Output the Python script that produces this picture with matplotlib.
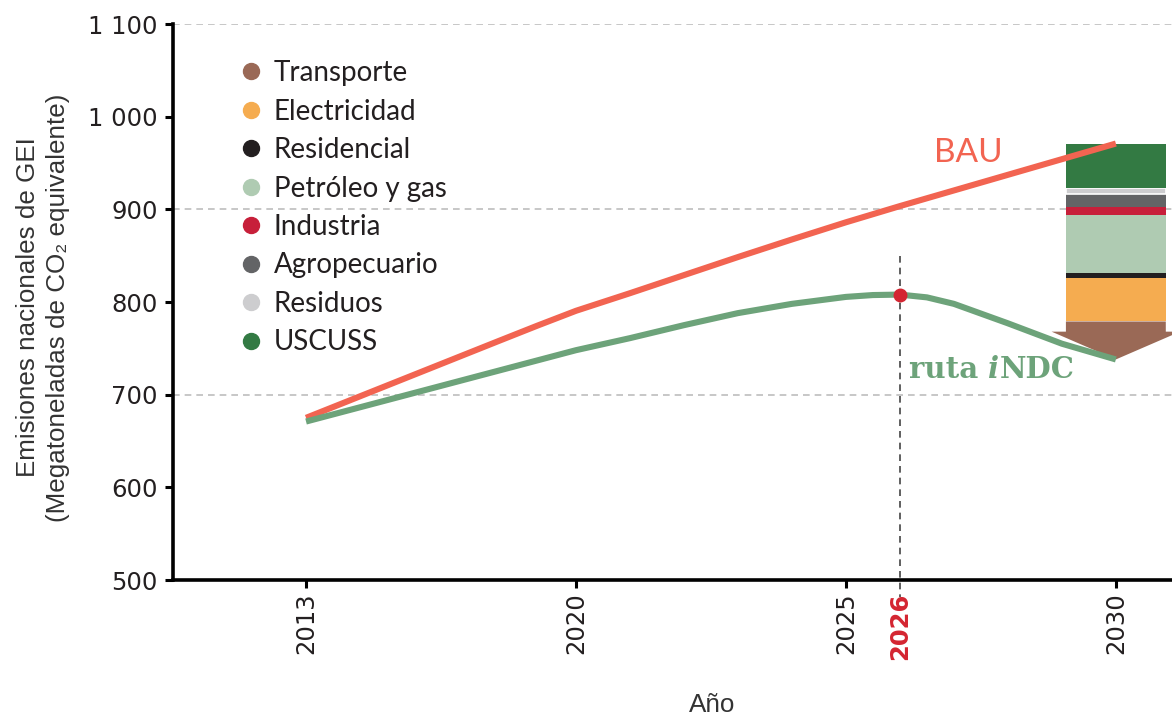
import numpy as np
import matplotlib
matplotlib.use("Agg")
import matplotlib.pyplot as plt
from matplotlib.lines import Line2D
from matplotlib.patches import Polygon

# trayectoria BAU (Mt CO2e)
anios_bau = [2013, 2018, 2019, 2020, 2021, 2022, 2023, 2024, 2025, 2026, 2030]
bau = [675, 758, 774.5, 790.5, 809.5, 829, 848.5, 867.5, 886, 903.5, 971]

# ruta iNDC
anios_indc = [2013, 2019, 2020, 2021, 2022, 2023, 2024, 2025, 2025.5, 2026,
              2026.5, 2027, 2028, 2029, 2030]
indc = [671, 737, 748, 761, 775, 788, 798, 805.5, 807.5, 808,
        805, 798, 777, 755, 738]

anio_pico = 2026
valor_pico = 808

# reducciones por sector en 2030 (de abajo hacia arriba)
sectores = ['Transporte', 'Electricidad', 'Residencial', 'Petróleo y gas',
            'Industria', 'Agropecuario', 'Residuos', 'USCUSS']
reduccion = [41, 47, 5, 63, 9, 14, 6, 48]
colores = ['#9A6956', '#F5AC50', '#231F20', '#AFCBB2',
           '#C71F3A', '#636466', '#CDCDCF', '#337A43']

xticks = [2013, 2020, 2025, 2026, 2030]
yticks = [500, 600, 700, 800, 900, 1000, 1100]
ytick_labels = ['500', '600', '700', '800', '900', '1 000', '1 100']
grid_y = [700, 900, 1100]

# eje x: tramos 2013-2020, 2020-2025 y 2025-2030 con el mismo ancho
tramos_x = [2000, 2013, 2020, 2025, 2030, 2040]
tramos_u = [-13 / 7, 0, 1, 2, 3, 5]

def fwd(x):
    return np.interp(x, tramos_x, tramos_u)

def inv(u):
    return np.interp(u, tramos_u, tramos_x)

ROJO = '#F26451'
VERDE = '#6DA37A'

fig = plt.figure(figsize=(11.72, 7.15), dpi=100)
ax = fig.add_axes([173 / 1172, 1 - 580 / 715, 1 - 173 / 1172, (580 - 24) / 715])
ax.set_xscale('function', functions=(fwd, inv))
ax.set_xlim(2009.55, 2031.04)
ax.set_ylim(500, 1100)

for g in grid_y:
    ax.axhline(g, color='#BDBDBD', lw=1.2, ls=(0, (4, 3)), zorder=0)

# barra de reducciones 2030 (se apila hacia abajo desde BAU)
ancho = 1.85
tope = bau[-1]
bases = []
for i in range(len(sectores) - 1, -1, -1):
    bases.append(tope - reduccion[i])
    tope = tope - reduccion[i]
bases = bases[::-1]
for i in range(1, len(sectores)):
    ec = 'white' if sectores[i] == 'Residuos' else 'none'
    ax.bar(2030, reduccion[i], bottom=bases[i], width=ancho, color=colores[i],
           edgecolor=ec, lw=1.2, zorder=2)

# transporte como flecha
cabeza = 30
sup = bases[0] + reduccion[0]
inf = bases[0]
flecha = Polygon([(2030 - ancho / 2, sup), (2030 + ancho / 2, sup),
                  (2030 + ancho / 2, inf + cabeza), (2030 + 1.19, inf + cabeza),
                  (2030, inf), (2030 - 1.19, inf + cabeza),
                  (2030 - ancho / 2, inf + cabeza)],
                 closed=True, facecolor=colores[0], edgecolor='none', zorder=2)
ax.add_patch(flecha)

ax.plot(anios_bau, bau, color=ROJO, lw=4.4, solid_capstyle='butt',
        solid_joinstyle='round', zorder=4)
ax.plot(anios_indc, indc, color=VERDE, lw=4.4, solid_capstyle='butt',
        solid_joinstyle='round', zorder=4)

ax.plot([anio_pico, anio_pico], [850, 482], color='#444444', lw=1.2,
        ls=(0, (4, 3)), clip_on=False, zorder=3)
ax.plot(anio_pico, valor_pico, 'o', color='#D42531', ms=9, zorder=5)

ax.text(2027.26, 961, 'BAU', color=ROJO, fontsize=24, family='Lato',
        ha='center', va='center')
t1 = ax.text(2026.17, 718, 'ruta ', color=VERDE, fontsize=21,
             family='DejaVu Serif', fontweight='bold', va='baseline')
t2 = ax.annotate('i', xy=(1, 0), xycoords=t1, color=VERDE, fontsize=21,
                 family='DejaVu Serif', fontweight='bold', style='italic', va='bottom')
ax.annotate('NDC', xy=(1, 0), xycoords=t2, color=VERDE, fontsize=21,
            family='DejaVu Serif', fontweight='bold', va='bottom')

# ejes
for s in ['top', 'right']:
    ax.spines[s].set_visible(False)
for s in ['left', 'bottom']:
    ax.spines[s].set_linewidth(2.6)
ax.set_yticks(yticks)
ax.set_yticklabels(ytick_labels)
ax.set_xticks(xticks)
ax.set_xticklabels([str(x) for x in xticks], rotation=90)
ax.tick_params(axis='both', length=6, width=2.2, labelsize=17.5, color='black',
               labelcolor='#231F20')
ax.tick_params(axis='y', pad=5)
ax.tick_params(axis='x', pad=3)
for tk, lab in zip(ax.xaxis.get_major_ticks(), ax.get_xticklabels()):
    if lab.get_text() == str(anio_pico):
        tk.tick1line.set_visible(False)
        lab.set_color('#D42531')
        lab.set_fontweight('bold')

ax.set_ylabel('Emisiones nacionales de GEI\n(Megatoneladas de CO₂ equivalente)',
              fontsize=18.7, family=['Liberation Sans', 'DejaVu Sans'],
              color='#333333', linespacing=1.3)
ax.yaxis.set_label_coords(-0.103, 0.49)
ax.set_xlabel('Año', fontsize=18.7, family='Liberation Sans', color='#333333')
ax.xaxis.set_label_coords(0.5395, -0.203)

handles = [Line2D([], [], marker='o', ls='none', ms=11.5, color=c) for c in colores]
ax.legend(handles, sectores, loc='upper left', bbox_to_anchor=(240 / 1172, 1 - 60 / 715),
          bbox_transform=fig.transFigure, frameon=False, borderpad=0, borderaxespad=0,
          handlelength=0.8, handletextpad=0.42, labelspacing=0.45,
          prop={'family': 'Lato', 'size': 20}, labelcolor='#231F20')

plt.savefig('out.png', dpi=100)
print("end")
